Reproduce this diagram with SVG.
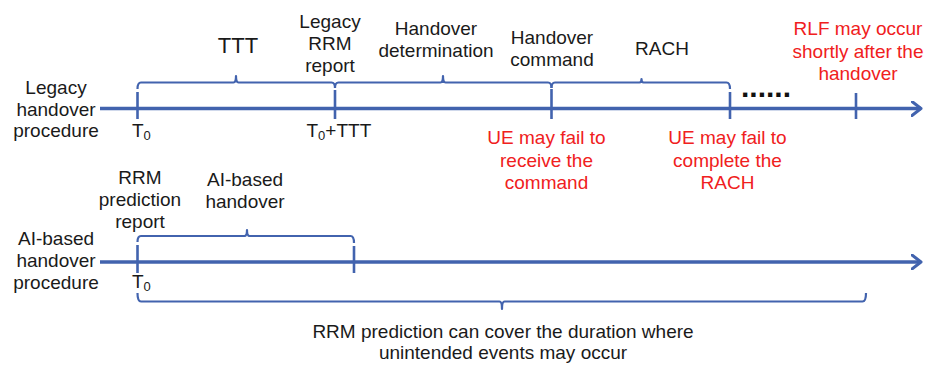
<svg xmlns="http://www.w3.org/2000/svg" width="927" height="365" viewBox="0 0 927 365">
  <defs>
    <style>
      .axis { stroke: #4263ae; stroke-width: 3.3; fill: none; }
      .tick { stroke: #4263ae; stroke-width: 2.6; fill: none; }
      .brace { stroke: #4263ae; stroke-width: 2.2; fill: none; stroke-linejoin: round; }
      .lbl { font-family: "Liberation Sans", Arial, sans-serif; font-size: 19px; fill: #1a1a1a; text-anchor: middle; }
      .red { fill: #f02020; }
      .sub { font-size: 13px; }
    </style>
    <marker id="chev" viewBox="0 0 12 16" refX="10" refY="8" markerWidth="12" markerHeight="16" markerUnits="userSpaceOnUse" orient="auto">
      <path d="M1,1 L10,8 L1,15" fill="none" stroke="#4263ae" stroke-width="3" stroke-linecap="round" stroke-linejoin="round"/>
    </marker>
  </defs>
  <rect width="927" height="365" fill="#ffffff"/>

  <!-- time axes, ticks and braces -->
  <g id="connectors">
    <!-- legacy procedure axis -->
    <line class="axis" x1="100" y1="108.5" x2="921" y2="108.5" marker-end="url(#chev)"/>
    <line class="tick" x1="137.5" y1="92" x2="137.5" y2="119"/>
    <line class="tick" x1="335" y1="90" x2="335" y2="119"/>
    <line class="tick" x1="551.5" y1="89" x2="551.5" y2="119"/>
    <line class="tick" x1="730" y1="92" x2="730" y2="119"/>
    <line class="tick" x1="856" y1="93" x2="856" y2="119"/>
    <!-- TTT brace -->
    <path class="brace" d="M137.5,89 Q137.5,82.5 141,82.5 H233.5 Q236,82.5 236,76 Q236,82.5 238.5,82.5 H331.5 Q335,82.5 335,88"/>
    <!-- handover determination brace -->
    <path class="brace" d="M335,88 Q335,82.5 338.5,82.5 H440.5 Q443,82.5 443,76 Q443,82.5 445.5,82.5 H548 Q551.5,82.5 551.5,88"/>
    <!-- RACH brace -->
    <path class="brace" d="M551.5,88 Q551.5,82.5 555,82.5 H639.5 Q641.5,82.5 641.5,79 Q641.5,82.5 643.5,82.5 H726.5 Q730,82.5 730,89"/>

    <!-- AI-based procedure axis -->
    <line class="axis" x1="100" y1="262" x2="921" y2="262" marker-end="url(#chev)"/>
    <line class="tick" x1="137.5" y1="245" x2="137.5" y2="273"/>
    <line class="tick" x1="354" y1="246" x2="354" y2="273"/>
    <!-- AI-based handover brace -->
    <path class="brace" d="M137.5,242 Q137.5,236 141,236 H244.5 Q247,236 247,230 Q247,236 249.5,236 H350.5 Q354,236 354,243"/>
    <!-- prediction coverage brace (opening downwards) -->
    <path class="brace" d="M137.5,293 Q137.5,301.5 141,301.5 H499.5 Q502,301.5 502,309 Q502,301.5 504.5,301.5 H862.5 Q866,301.5 866,293"/>
  </g>

  <!-- legacy handover row -->
  <g id="legacy-title">
    <text class="lbl" x="56" y="94">Legacy</text>
    <text class="lbl" x="56" y="115.5">handover</text>
    <text class="lbl" x="56" y="137">procedure</text>
  </g>
  <g id="ttt">
    <text class="lbl" x="238" y="53" style="font-size:22px">TTT</text>
  </g>
  <g id="legacy-rrm-report">
    <text class="lbl" x="330" y="28">Legacy</text>
    <text class="lbl" x="330" y="50">RRM</text>
    <text class="lbl" x="330" y="72">report</text>
  </g>
  <g id="handover-determination">
    <text class="lbl" x="436" y="34.5">Handover</text>
    <text class="lbl" x="436" y="56.5">determination</text>
  </g>
  <g id="handover-command">
    <text class="lbl" x="552" y="44">Handover</text>
    <text class="lbl" x="552" y="66">command</text>
  </g>
  <g id="rach">
    <text class="lbl" x="662" y="55">RACH</text>
  </g>
  <g id="rlf">
    <text class="lbl red" x="858" y="35">RLF may occur</text>
    <text class="lbl red" x="858" y="58">shortly after the</text>
    <text class="lbl red" x="858" y="80">handover</text>
  </g>
  <g id="ellipsis">
    <text x="741" y="97" style="font-family:'Liberation Sans',Arial,sans-serif;font-size:30px;font-weight:bold;fill:#111">......</text>
  </g>
  <g id="t0-legacy">
    <text class="lbl" x="132" y="136.5" style="text-anchor:start">T<tspan class="sub" dy="3">0</tspan></text>
  </g>
  <g id="t0-plus-ttt">
    <text class="lbl" x="306.5" y="136.5" style="text-anchor:start">T<tspan class="sub" dy="3">0</tspan><tspan dy="-3">+TTT</tspan></text>
  </g>
  <g id="fail-command">
    <text class="lbl red" x="546.5" y="144">UE may fail to</text>
    <text class="lbl red" x="546.5" y="167">receive the</text>
    <text class="lbl red" x="546.5" y="189">command</text>
  </g>
  <g id="fail-rach">
    <text class="lbl red" x="727.5" y="144">UE may fail to</text>
    <text class="lbl red" x="727.5" y="167">complete the</text>
    <text class="lbl red" x="727.5" y="189">RACH</text>
  </g>

  <!-- AI-based handover row -->
  <g id="ai-title">
    <text class="lbl" x="56" y="244.5">AI-based</text>
    <text class="lbl" x="56" y="267">handover</text>
    <text class="lbl" x="56" y="289">procedure</text>
  </g>
  <g id="rrm-prediction-report">
    <text class="lbl" x="140" y="183.5">RRM</text>
    <text class="lbl" x="140" y="205.5">prediction</text>
    <text class="lbl" x="140" y="227.5">report</text>
  </g>
  <g id="ai-handover">
    <text class="lbl" x="245" y="186">AI-based</text>
    <text class="lbl" x="245" y="208">handover</text>
  </g>
  <g id="t0-ai">
    <text class="lbl" x="132" y="287.5" style="text-anchor:start">T<tspan class="sub" dy="3">0</tspan></text>
  </g>
  <g id="coverage-note">
    <text class="lbl" x="503" y="337.5">RRM prediction can cover the duration where</text>
    <text class="lbl" x="503" y="358.5">unintended events may occur</text>
  </g>
</svg>
